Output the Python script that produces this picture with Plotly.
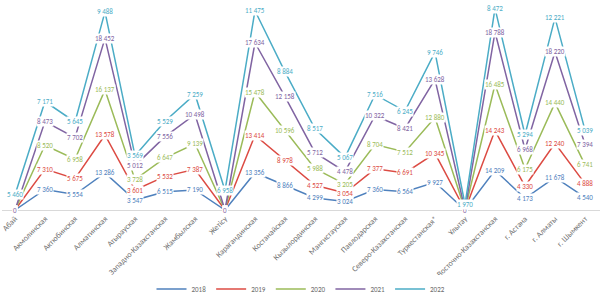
import plotly.graph_objects as go

categories = ["Абай", "Акмолинская", "Актюбинская", "Алматинская", "Атырауская",
              "Западно-Казахстанская", "Жамбылская", "Жетісу", "Карагандинская",
              "Костанайская", "Кызылординская", "Мангистауская", "Павлодарская",
              "Северо-Казахстанская", "Туркестанская*", "Ұлытау",
              "Восточно-Казахстанская", "г. Астана", "г. Алматы", "г. Шымкент"]

years = ["2018", "2019", "2020", "2021", "2022"]

v2018 = [0, 7360, 5554, 13286, 3547, 6515, 7190, 0, 13356, 8866, 4299, 3024, 7360, 6564, 9927, 0, 14209, 4173, 11678, 4540]
v2019 = [0, 7310, 5675, 13578, 3601, 5532, 7387, 0, 13414, 8978, 4527, 3054, 7377, 6691, 10345, 0, 14243, 4330, 12240, 4888]
v2020 = [0, 8520, 6958, 16137, 3728, 6647, 9139, 0, 15478, 10596, 5988, 3205, 8704, 7512, 12880, 0, 16485, 6175, 14440, 6741]
v2021 = [0, 8473, 7702, 18452, 5012, 7556, 10498, 0, 17634, 12158, 5712, 4478, 10322, 8421, 13628, 0, 18788, 6968, 18220, 7394]
v2022 = [5460, 7171, 5645, 9488, 3569, 5529, 7259, 6958, 11475, 8884, 8517, 5067, 7516, 6245, 9746, 1970, 8472, 5294, 12221, 5039]

series = [v2018, v2019, v2020, v2021, v2022]
colors = ["#4F81BD", "#DC4B43", "#9BBB59", "#8064A2", "#4BACC6"]

FONT = "Calibri, Carlito, 'Liberation Sans Narrow', 'Liberation Sans', Arial, sans-serif"

fig = go.Figure()
annotations = []
cum = [0] * len(categories)
for name, vals, col in zip(years, series, colors):
    fig.add_trace(go.Scatter(
        x=categories, y=vals, name=name, mode="lines",
        stackgroup="one", fill="none",
        line=dict(color=col, width=1.5),
        hoverinfo="skip",
    ))
    cum = [c + v for c, v in zip(cum, vals)]
    for cat, v, c in zip(categories, vals, cum):
        annotations.append(dict(
            x=cat, y=c, xref="x", yref="y",
            text=f"{v:,}".replace(",", " "),
            showarrow=False, bgcolor="white", borderpad=0,
            font=dict(size=7, color=col, family=FONT),
        ))

fig.update_layout(
    width=602, height=298,
    margin=dict(l=2, r=2, t=5, b=88, autoexpand=False),
    paper_bgcolor="white", plot_bgcolor="white",
    font=dict(family=FONT, size=7, color="#595959"),
    annotations=annotations,
    showlegend=True,
    legend=dict(orientation="h", x=0.5, xanchor="center",
                yref="container", y=0.03, yanchor="middle",
                font=dict(size=7, color="#6b6b6b"), itemwidth=30, tracegroupgap=0),
    xaxis=dict(type="category", range=[-0.433, 19.5], tickangle=-45, automargin=False,
               showline=True, linecolor="#D9D9D9", linewidth=1,
               showgrid=False, ticks="", zeroline=False,
               tickfont=dict(size=8, color="#707070", family=FONT)),
    yaxis=dict(range=[0, 73400], visible=False, showgrid=False, zeroline=False,
               automargin=False),
)

fig.write_html("out.html", config={"displayModeBar": False},
               post_script="document.body.style.margin='0';document.body.style.padding='0';document.body.style.overflow='hidden';")
